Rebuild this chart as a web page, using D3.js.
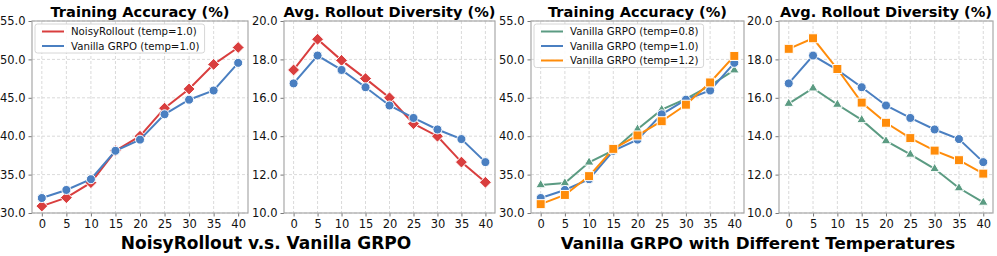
<!DOCTYPE html>
<html>
<head>
<meta charset="utf-8">
<script src="https://cdn.jsdelivr.net/npm/d3@7"></script>
<style>
  body { margin: 0; background: #fff; }
  svg { display: block; font-family: "DejaVu Sans", sans-serif; }
</style>
</head>
<body>
<svg id="chart" width="997" height="256"></svg>
<script>
// steps on the x axis
const steps = [0, 5, 10, 15, 20, 25, 30, 35, 40];

// training accuracy (%)
const accNoisy = [30.9, 32.0, 33.95, 38.1, 40.0, 43.65, 46.15, 49.35, 51.55];
const accT10 = [31.95, 33.0, 34.4, 38.1, 39.55, 42.85, 44.75, 45.95, 49.55];
const accT08 = [33.65, 33.9, 36.6, 38.15, 40.9, 43.45, 44.85, 46.6, 48.6];
const accT12 = [31.15, 32.35, 34.8, 38.35, 40.1, 41.95, 44.1, 47.0, 50.45];

// average rollout diversity (%)
const divNoisy = [17.45, 19.05, 17.95, 17.0, 16.0, 14.65, 14.0, 12.65, 11.6];
const divT10 = [16.75, 18.2, 17.45, 16.55, 15.6, 14.95, 14.35, 13.85, 12.65];
const divT08 = [15.7, 16.5, 15.65, 14.85, 13.75, 13.05, 12.3, 11.3, 10.55];
const divT12 = [18.55, 19.1, 17.5, 15.75, 14.7, 13.9, 13.25, 12.75, 12.05];

const accTicks = [30, 35, 40, 45, 50, 55];
const divTicks = [10, 12, 14, 16, 18, 20];

const RED = '#d93e3e', BLUE = '#4a7fc1', GREEN = '#5b9b82', ORANGE = '#ff8c0a';

const noisyLbl = 'NoisyRollout (temp=1.0)';
const t10Lbl = 'Vanilla GRPO (temp=1.0)';
const t08Lbl = 'Vanilla GRPO (temp=0.8)';
const t12Lbl = 'Vanilla GRPO (temp=1.2)';

const panels = [
  { x0: 32, x1: 248, title: 'Training Accuracy (%)', ticks: accTicks, legend: true,
    series: [
      { name: noisyLbl, vals: accNoisy, color: RED, marker: 'diamond' },
      { name: t10Lbl, vals: accT10, color: BLUE, marker: 'circle' }] },
  { x0: 284, x1: 495, title: 'Avg. Rollout Diversity (%)', ticks: divTicks, legend: false,
    series: [
      { name: noisyLbl, vals: divNoisy, color: RED, marker: 'diamond' },
      { name: t10Lbl, vals: divT10, color: BLUE, marker: 'circle' }] },
  { x0: 531, x1: 744, title: 'Training Accuracy (%)', ticks: accTicks, legend: true,
    series: [
      { name: t08Lbl, vals: accT08, color: GREEN, marker: 'triangle' },
      { name: t10Lbl, vals: accT10, color: BLUE, marker: 'circle' },
      { name: t12Lbl, vals: accT12, color: ORANGE, marker: 'square' }] },
  { x0: 779, x1: 993, title: 'Avg. Rollout Diversity (%)', ticks: divTicks, legend: false,
    series: [
      { name: t08Lbl, vals: divT08, color: GREEN, marker: 'triangle' },
      { name: t10Lbl, vals: divT10, color: BLUE, marker: 'circle' },
      { name: t12Lbl, vals: divT12, color: ORANGE, marker: 'square' }] },
];

const plotTop = 21, plotBottom = 213;
const svg = d3.select('#chart');

const symbols = {
  circle: d3.symbol(d3.symbolCircle, 64),
  diamond: d3.symbol(d3.symbolDiamond2, 90),
  square: d3.symbol(d3.symbolSquare, 81),
  triangle: d3.symbol(d3.symbolTriangle, 40),
};

panels.forEach((p) => {
  let x = d3.scaleLinear().domain([-2, 42]).range([p.x0, p.x1]);
  let y = d3.scaleLinear().domain(d3.extent(p.ticks)).range([plotBottom, plotTop]);
  let g = svg.append('g');

  // grid
  g.append('g').selectAll('line')
    .data(steps).enter().append('line')
    .attr('x1', (d) => x(d)).attr('x2', (d) => x(d))
    .attr('y1', plotTop).attr('y2', plotBottom)
    .attr('stroke', '#d0d0d0').attr('stroke-width', 0.8).attr('stroke-dasharray', '3,2');
  g.append('g').selectAll('line')
    .data(p.ticks).enter().append('line')
    .attr('x1', p.x0).attr('x2', p.x1)
    .attr('y1', (d) => y(d)).attr('y2', (d) => y(d))
    .attr('stroke', '#d0d0d0').attr('stroke-width', 0.8).attr('stroke-dasharray', '3,2');

  // axes
  let xAxis = g.append('g')
    .attr('transform', `translate(0,${plotBottom})`)
    .call(d3.axisBottom(x).tickValues(steps).tickSize(3.5).tickPadding(3).tickSizeOuter(0));
  let yAxis = g.append('g')
    .attr('transform', `translate(${p.x0},0)`)
    .call(d3.axisLeft(y).tickValues(p.ticks).tickFormat(d3.format('.1f')).tickSize(3.5).tickPadding(3).tickSizeOuter(0));
  [xAxis, yAxis].forEach((a) => {
    a.select('.domain').remove();
    a.selectAll('.tick line').attr('stroke', '#555').attr('stroke-width', 0.8);
    a.selectAll('.tick text').attr('fill', '#111').style('font-size', '11.5px')
      .style('font-family', '"DejaVu Sans", sans-serif');
  });

  // frame
  g.append('rect')
    .attr('x', p.x0).attr('y', plotTop)
    .attr('width', p.x1 - p.x0).attr('height', plotBottom - plotTop)
    .attr('fill', 'none').attr('stroke', '#a8a8a8').attr('stroke-width', 1.2);

  // title
  g.append('text')
    .attr('x', (p.x0 + p.x1) / 2).attr('y', 16.5)
    .attr('text-anchor', 'middle')
    .style('font-size', '14.6px').style('font-weight', 'bold')
    .text(p.title);

  // lines and markers
  let line = d3.line().x((d, i) => x(steps[i])).y((d) => y(d));
  p.series.forEach((s) => {
    g.append('path')
      .datum(s.vals)
      .attr('d', line)
      .attr('fill', 'none').attr('stroke', s.color).attr('stroke-width', 2);
    g.append('g').selectAll('path')
      .data(s.vals).enter().append('path')
      .attr('d', symbols[s.marker])
      .attr('transform', (d, i) => `translate(${x(steps[i])},${y(d)})`)
      .attr('fill', s.color).attr('stroke', '#fff').attr('stroke-width', 1);
  });

  // legend
  if (p.legend) {
    let rowH = 14.5;
    let lg = g.append('g').attr('transform', `translate(${p.x0 + 3},${plotTop + 3})`);
    let items = lg.selectAll('g').data(p.series).enter().append('g')
      .attr('transform', (d, i) => `translate(0,${7.5 + i * rowH})`);
    items.append('line')
      .attr('x1', 7).attr('x2', 29).attr('y1', 0).attr('y2', 0)
      .attr('stroke', (d) => d.color).attr('stroke-width', 2);
    items.append('text')
      .attr('x', 36).attr('y', 3.8)
      .style('font-size', '10.2px').attr('fill', '#111')
      .text((d) => d.name);
    let bb = lg.node().getBBox();
    lg.insert('rect', ':first-child')
      .attr('x', 0).attr('y', 0)
      .attr('width', bb.x + bb.width + 5).attr('height', p.series.length * rowH)
      .attr('rx', 2.5)
      .attr('fill', '#fff').attr('fill-opacity', 0.85)
      .attr('stroke', '#cccccc').attr('stroke-width', 0.8);
  }
});

// group captions
svg.append('text')
  .attr('x', 266).attr('y', 249)
  .attr('text-anchor', 'middle')
  .style('font-size', '17px').style('font-weight', 'bold')
  .text('NoisyRollout v.s. Vanilla GRPO');
svg.append('text')
  .attr('x', 758).attr('y', 249)
  .attr('text-anchor', 'middle')
  .style('font-size', '16.7px').style('font-weight', 'bold')
  .text('Vanilla GRPO with Different Temperatures');
</script>
</body>
</html>
